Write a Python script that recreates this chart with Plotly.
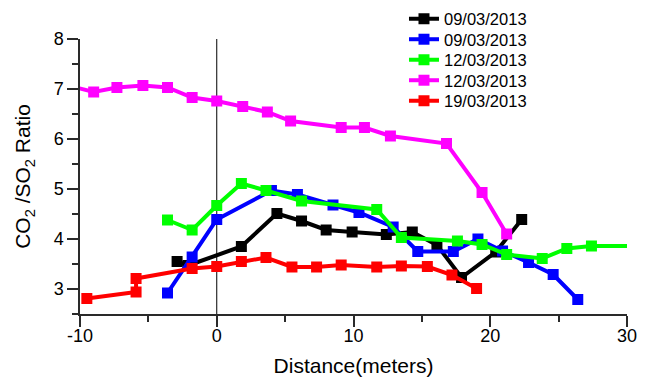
import plotly.graph_objects as go

# Series data (distance in meters, CO2/SO2 ratio)
black_x = [-2.9, -2.1, 1.8, 4.4, 6.2, 8.0, 9.9, 12.4, 14.3, 16.1, 17.9, 20.4, 22.3]
black_y = [3.55, 3.47, 3.85, 4.51, 4.36, 4.18, 4.14, 4.09, 4.14, 3.88, 3.23, 3.74, 4.39]

blue_x = [-3.6, -1.8, 0.0, 4.0, 5.9, 8.5, 10.4, 12.9, 14.7, 17.3, 19.1, 20.9, 22.8, 24.6, 26.4]
blue_y = [2.92, 3.64, 4.39, 4.97, 4.89, 4.68, 4.53, 4.24, 3.75, 3.75, 4.00, 3.76, 3.53, 3.29, 2.79]

green_x = [-3.6, -1.8, 0.0, 1.8, 3.6, 6.2, 11.7, 13.5, 17.6, 19.4, 21.2, 23.8, 25.6, 27.4, 31.0]
green_y = [4.38, 4.18, 4.67, 5.11, 4.97, 4.76, 4.59, 4.03, 3.96, 3.89, 3.69, 3.61, 3.81, 3.86, 3.86]

magenta_x = [-11.0, -9.0, -7.3, -5.4, -3.6, -1.8, 0.0, 1.9, 3.7, 5.4, 9.1, 10.8, 12.7, 16.8, 19.4, 21.2]
magenta_y = [7.08, 6.94, 7.03, 7.07, 7.03, 6.83, 6.76, 6.65, 6.54, 6.36, 6.23, 6.23, 6.06, 5.91, 4.93, 4.10]

red_x = [-9.5, -5.9, -5.9, -1.8, 0.0, 1.8, 3.6, 5.5, 7.3, 9.1, 11.7, 13.5, 15.4, 17.2, 19.0]
red_y = [2.81, 2.94, 3.21, 3.41, 3.45, 3.55, 3.63, 3.44, 3.44, 3.48, 3.44, 3.46, 3.45, 3.28, 3.01]

series = [
    ("09/03/2013", black_x, black_y, "#000000"),
    ("09/03/2013", blue_x, blue_y, "#0000FF"),
    ("12/03/2013", green_x, green_y, "#00FF00"),
    ("12/03/2013", magenta_x, magenta_y, "#FF00FF"),
    ("19/03/2013", red_x, red_y, "#FF0000"),
]

x_ticks = [-10, 0, 10, 20, 30]
y_ticks = [3, 4, 5, 6, 7, 8]

W, H = 646, 378
ML, MR, MT, MB = 80, 19, 0, 64
paper_h = H - MT - MB           # 314
plot_top_px = 39                # top of y axis (y = 8)
legend_centers_px = [19, 39.5, 60, 80.5, 101]
legend_ids = ["legend", "legend2", "legend3", "legend4", "legend5"]

font_family = "Liberation Sans, Arial, sans-serif"
axis_col = "#2a2a2a"

fig = go.Figure()
for (name, xs, ys, col), lid in zip(series, legend_ids):
    fig.add_trace(go.Scatter(
        x=xs, y=ys, name=name, mode="lines+markers", legend=lid,
        line=dict(color=col, width=4),
        marker=dict(symbol="square", size=11, color=col),
    ))

legend_layout = {}
for lid, yc in zip(legend_ids, legend_centers_px):
    legend_layout[lid] = dict(
        x=0.5923, y=(paper_h - yc) / paper_h, xanchor="left", yanchor="middle",
        font=dict(size=16.5, family=font_family, color="black"),
        bgcolor="rgba(0,0,0,0)",
    )

# vertical reference line at x = 0
fig.add_shape(type="line", x0=0, x1=0, y0=2.5, y1=8, xref="x", yref="y",
              line=dict(color="black", width=1), layer="below")

fig.update_layout(
    width=W, height=H,
    margin=dict(l=ML, r=MR, t=MT, b=MB),
    paper_bgcolor="white", plot_bgcolor="white",
    font=dict(family=font_family, color="black", size=18),
    showlegend=True,
    xaxis=dict(range=[-10, 30], tickvals=x_ticks, ticktext=[str(v) for v in x_ticks],
               showgrid=False, zeroline=False, showline=True, linecolor=axis_col,
               linewidth=1.5, ticks="outside", ticklen=11, tickwidth=1.5, tickcolor=axis_col,
               minor=dict(dtick=5, ticks="outside", ticklen=6, tickwidth=1.5, tickcolor=axis_col),
               tickfont=dict(size=18), automargin=False, ticklabelstandoff=-6,
               title=dict(text="Distance(meters)", font=dict(size=21), standoff=13)),
    yaxis=dict(range=[2.5, 8], domain=[0, (paper_h - plot_top_px) / paper_h], tickvals=y_ticks,
               ticktext=[str(v) for v in y_ticks],
               showgrid=False, zeroline=False, showline=True, linecolor=axis_col,
               linewidth=1.5, ticks="outside", ticklen=11, tickwidth=1.5, tickcolor=axis_col,
               minor=dict(dtick=0.5, ticks="outside", ticklen=6, tickwidth=1.5, tickcolor=axis_col),
               tickfont=dict(size=18), automargin=False,
               title=dict(text="CO<sub>2</sub> /SO<sub>2</sub> Ratio", font=dict(size=21), standoff=17)),
    **legend_layout,
)

fig.write_html("out.html", config={"displayModeBar": False},
               post_script="document.body.style.margin='0px';")
